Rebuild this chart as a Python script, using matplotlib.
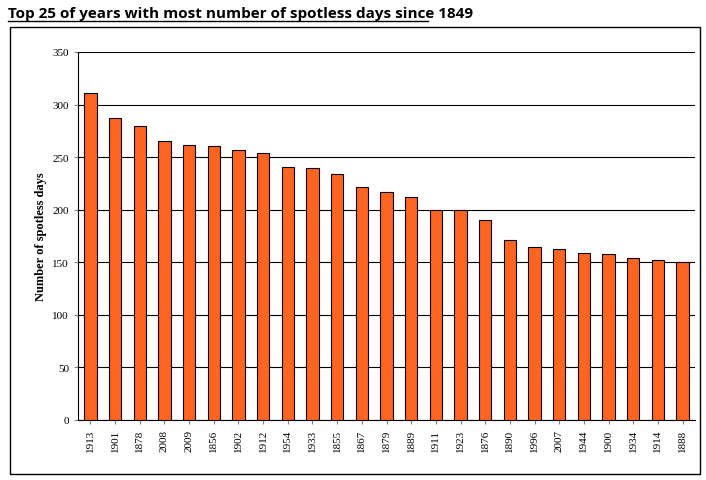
import matplotlib
matplotlib.use("Agg")
import matplotlib.pyplot as plt
from matplotlib.patches import Rectangle

years = ["1913","1901","1878","2008","2009","1856","1902","1912","1954","1933","1855","1867","1879","1889","1911","1923","1876","1890","1996","2007","1944","1900","1934","1914","1888"]
days = [311,287,280,265,262,261,257,254,241,240,234,222,217,212,200,200,190,171,165,163,159,158,154,152,150]
yticks = [0,50,100,150,200,250,300,350]

fig = plt.figure(figsize=(7.06,4.81), dpi=100)
fig.patches.append(Rectangle((10/706, 6/481), 690/706, 447/481, transform=fig.transFigure,
                             fill=False, edgecolor="black", linewidth=1))
fig.text(8/706, 1-14/481, "Top 25 of years with most number of spotless days since 1849",
         fontfamily="Open Sans", fontweight="bold", fontsize=11, va="center", ha="left")
# underline
fig.add_artist(plt.Line2D([8/706, 428/706], [1-22/481]*2, color="black", linewidth=1, transform=fig.transFigure))

ax = fig.add_axes([78/706, 1-421/481, 617/706, 368/481])
x = range(len(years))
ax.bar(x, days, width=0.5, color="#FF6420", edgecolor="black", linewidth=0.8, zorder=3)
ax.set_xlim(-0.5, len(years)-0.5)
ax.set_ylim(0, 350)
ax.set_yticks(yticks)
ax.yaxis.grid(True, color="black", linewidth=0.8, zorder=0)
ax.set_xticks(list(x))
ax.set_xticklabels(years, rotation=90, fontfamily="Liberation Serif", fontsize=8)
for t in ax.get_yticklabels():
    t.set_fontfamily("Liberation Serif"); t.set_fontsize(8)
ax.set_ylabel("Number of spotless days", fontfamily="Liberation Serif", fontweight="bold", fontsize=9)
for s in ["top","right"]:
    ax.spines[s].set_visible(False)
ax.tick_params(axis="both", length=3, color="gray")
fig.savefig("out.png", dpi=100)
